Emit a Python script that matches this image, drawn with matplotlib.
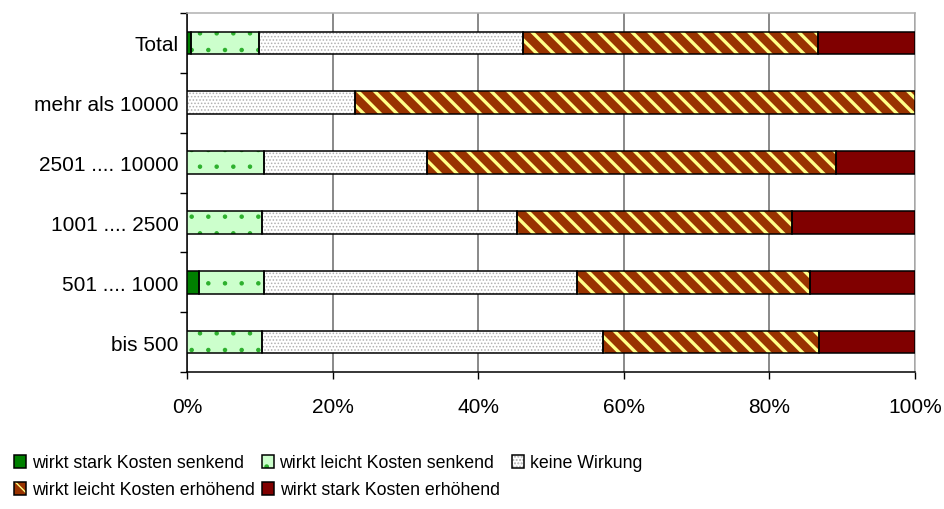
import numpy as np
import matplotlib
matplotlib.use("Agg")
import matplotlib.pyplot as plt
from matplotlib.patches import Patch
from matplotlib.ticker import PercentFormatter, FixedLocator
from matplotlib.legend_handler import HandlerTuple

plt.rcParams['font.family'] = ['Liberation Sans', 'DejaVu Sans']

# data (shares)
kategorien = ["Total", "mehr als 10000", "2501 .... 10000", "1001 .... 2500",
              "501 .... 1000", "bis 500"]
stark_senkend = [0.005, 0.0, 0.0, 0.0, 0.016, 0.0]
leicht_senkend = [0.094, 0.0, 0.106, 0.103, 0.090, 0.103]
keine_wirkung = [0.363, 0.231, 0.224, 0.350, 0.430, 0.468]
leicht_erhoehend = [0.405, 0.769, 0.562, 0.378, 0.320, 0.297]
stark_erhoehend = [0.133, 0.0, 0.108, 0.169, 0.144, 0.132]

# name, values, face, hatch, hatch colour, hatch linewidth
serien = [
    ("wirkt stark Kosten senkend", stark_senkend, "#008000", None, None, 0),
    ("wirkt leicht Kosten senkend", leicht_senkend, "#CCFFCC", ".", "#2DB02D", 0.8),
    ("keine Wirkung", keine_wirkung, "#FFFFFF", ".....", "#B0B0B0", 0.7),
    ("wirkt leicht Kosten erhöhend", leicht_erhoehend, "#993300", "\\\\", "#FFFF88", 2.4),
    ("wirkt stark Kosten erhöhend", stark_erhoehend, "#800000", None, None, 0),
]

fig = plt.figure(figsize=(9.45, 5.1), dpi=100)
ax = fig.add_axes([187/945, 1-373/510, (915-187)/945, (373-14)/510])

y = np.arange(len(kategorien))
h = 0.38
links = np.zeros(len(kategorien))
handles = []
for name, werte, face, hatch, hcol, hlw in serien:
    w = np.array(werte)
    m = w > 0
    ax.barh(y[m], w[m], left=links[m], height=h, color=face, linewidth=0, zorder=3)
    teile = [Patch(facecolor=face, linewidth=0)]
    if hatch:
        with plt.rc_context({'hatch.linewidth': hlw}):
            bars = ax.barh(y[m], w[m], left=links[m], height=h, color='none',
                           edgecolor=hcol, hatch=hatch, linewidth=0, zorder=4)
            hp = Patch(facecolor='none', edgecolor=hcol, hatch=hatch, linewidth=0)
        for b in list(bars) + [hp]:
            if hasattr(b, 'set_hatch_linewidth'):
                b.set_hatch_linewidth(hlw)
        teile.append(hp)
    ax.barh(y[m], w[m], left=links[m], height=h, fill=False, edgecolor='black',
            linewidth=1.1, zorder=5)
    links = links + w
    teile.append(Patch(fill=False, edgecolor='black', linewidth=1.1))
    handles.append((tuple(teile), name))

ax.set_xlim(0, 1)
ax.set_ylim(len(kategorien) - 0.5, -0.5)
ax.set_yticks(y)
ax.set_yticklabels(kategorien, fontsize=15)
ax.yaxis.set_minor_locator(FixedLocator(np.arange(-0.5, len(kategorien), 1)))
ax.tick_params(axis='y', which='major', length=0, pad=6)
ax.tick_params(axis='y', which='minor', length=5, width=1, direction='out')
ax.set_xticks(np.linspace(0, 1, 6))
ax.xaxis.set_major_formatter(PercentFormatter(1, decimals=0))
ax.tick_params(axis='x', length=5, width=1, direction='out', labelsize=15, pad=13)
ax.grid(axis='x', color='#808080', linewidth=1.3, zorder=0)
ax.set_axisbelow(True)
ax.spines['left'].set_color('black')
ax.spines['bottom'].set_color('black')
ax.spines['top'].set_color('#B0B0B0')
ax.spines['right'].set_color('#B0B0B0')
for s in ax.spines.values():
    s.set_linewidth(1.1)

leg_kw = dict(frameon=False, fontsize=12.8, handlelength=0.7, handleheight=0.7,
              handletextpad=0.3, borderpad=0, borderaxespad=0,
              handler_map={tuple: HandlerTuple(ndivide=1, pad=0)})
l1 = fig.legend([hd for hd, _ in handles[:3]], [n for _, n in handles[:3]], ncol=3,
                columnspacing=1.0, loc='center left',
                bbox_to_anchor=(14/945, 1-464/510), **leg_kw)
l2 = fig.legend([hd for hd, _ in handles[3:]], [n for _, n in handles[3:]], ncol=2,
                columnspacing=0.4, loc='center left',
                bbox_to_anchor=(14/945, 1-491/510), **leg_kw)

fig.savefig("out.png", dpi=100)
